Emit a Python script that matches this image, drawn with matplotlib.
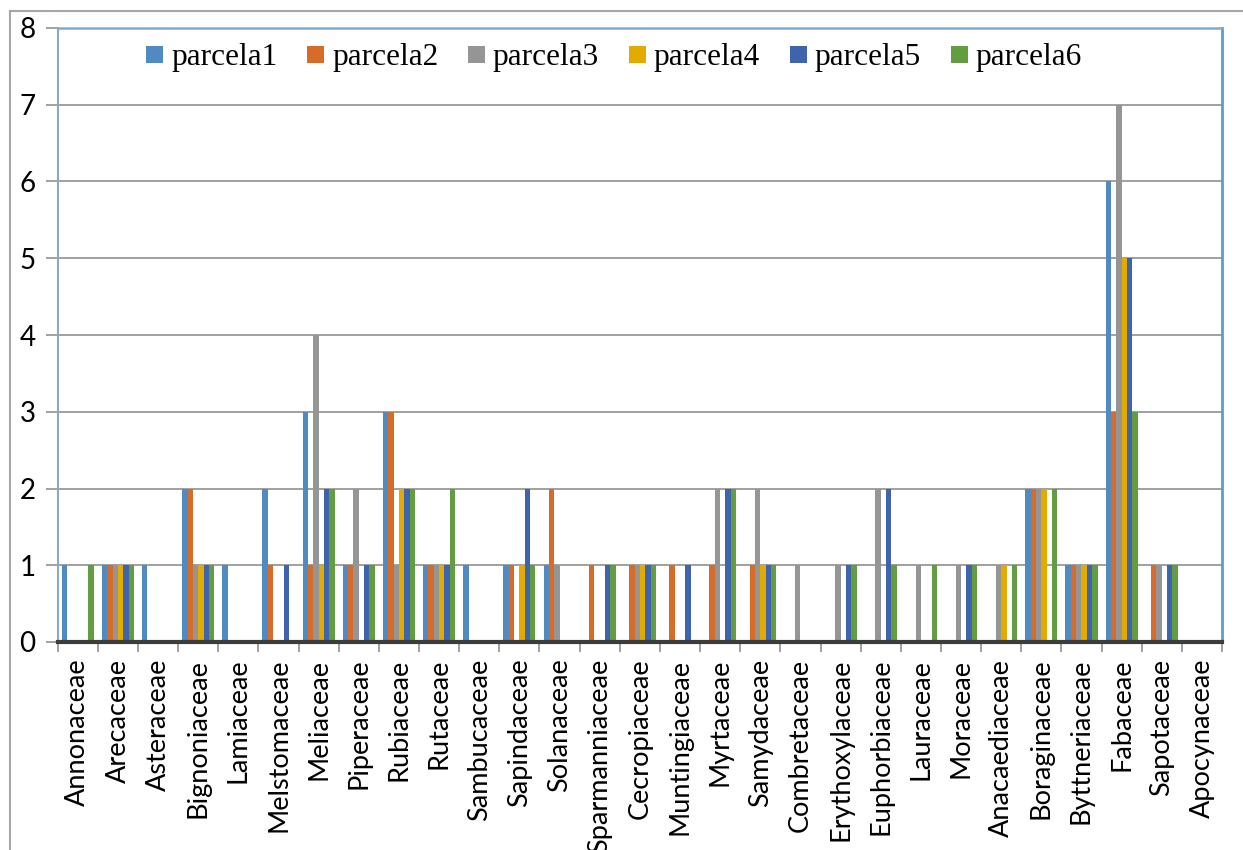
import numpy as np
import matplotlib.pyplot as plt
from matplotlib import patheffects as pe
from matplotlib.lines import Line2D

familias = ["Annonaceae", "Arecaceae", "Asteraceae", "Bignoniaceae", "Lamiaceae",
            "Melstomaceae", "Meliaceae", "Piperaceae", "Rubiaceae", "Rutaceae",
            "Sambucaceae", "Sapindaceae", "Solanaceae", "Sparmanniaceae", "Cecropiaceae",
            "Muntingiaceae", "Myrtaceae", "Samydaceae", "Combretaceae", "Erythoxylaceae",
            "Euphorbiaceae", "Lauraceae", "Moraceae", "Anacaediaceae", "Boraginaceae",
            "Byttneriaceae", "Fabaceae", "Sapotaceae", "Apocynaceae"]

parcela1 = [1, 1, 1, 2, 1, 2, 3, 1, 3, 1, 1, 1, 1, 0, 0, 0, 0, 0, 0, 0, 0, 0, 0, 0, 2, 1, 6, 0, 0]
parcela2 = [0, 1, 0, 2, 0, 1, 1, 1, 3, 1, 0, 1, 2, 1, 1, 1, 1, 1, 0, 0, 0, 0, 0, 0, 2, 1, 3, 1, 0]
parcela3 = [0, 1, 0, 1, 0, 0, 4, 2, 1, 1, 0, 0, 1, 0, 1, 0, 2, 2, 1, 1, 2, 1, 1, 1, 2, 1, 7, 1, 0]
parcela4 = [0, 1, 0, 1, 0, 0, 1, 0, 2, 1, 0, 1, 0, 0, 1, 0, 0, 1, 0, 0, 0, 0, 0, 1, 2, 1, 5, 0, 0]
parcela5 = [0, 1, 0, 1, 0, 1, 2, 1, 2, 1, 0, 2, 0, 1, 1, 1, 2, 1, 0, 1, 2, 0, 1, 0, 0, 1, 5, 1, 0]
parcela6 = [1, 1, 0, 1, 0, 0, 2, 1, 2, 2, 0, 1, 0, 1, 1, 0, 2, 1, 0, 1, 1, 1, 1, 1, 2, 1, 3, 1, 0]

series = [("parcela1", parcela1), ("parcela2", parcela2), ("parcela3", parcela3),
          ("parcela4", parcela4), ("parcela5", parcela5), ("parcela6", parcela6)]
cores = ["#4F8BC0", "#D66B2A", "#959595", "#E3AA00", "#3E64AE", "#629D41"]

fig = plt.figure(figsize=(12.43, 8.5), dpi=100)
ax = fig.add_axes([57.7 / 1243, 208 / 850, (1222 - 57.7) / 1243, (642 - 28) / 850])

x = np.arange(len(familias))
w = 0.133
for k, ((nome, vals), cor) in enumerate(zip(series, cores)):
    ax.bar(x + (k - 2.5) * w, vals, width=w, color=cor, label=nome, zorder=3)

ax.set_xlim(-0.5, len(familias) - 0.5)
ax.set_ylim(0, 8)
ax.set_yticks(range(9))
ax.yaxis.grid(True, color="#a0a0a0", linewidth=1.4, zorder=0)

# rotulos das familias no centro, tracinhos nas divisas
ax.set_xticks(x)
ax.set_xticklabels(familias, rotation=90, va="top", ha="center",
                   family="Lato", fontsize=19.5)
ax.set_xticks(np.arange(-0.5, len(familias)), minor=True)
ax.tick_params(axis="x", which="major", length=0, pad=12)
ax.tick_params(axis="x", which="minor", length=7, width=1.3, color="#9a9a9a")
ax.tick_params(axis="y", length=9, width=1.3, color="#9a9a9a", pad=7)
for t in ax.get_yticklabels():
    t.set_family("Lato")
    t.set_fontsize(20)

ax.spines["left"].set_color("#8ea7c4")
ax.spines["left"].set_linewidth(1.5)
ax.spines["top"].set_color("#7fa9d8")
ax.spines["top"].set_linewidth(1.8)
ax.spines["right"].set_color("#5b9bd5")
ax.spines["right"].set_linewidth(2)
ax.spines["bottom"].set_color("#3c3c3c")
ax.spines["bottom"].set_linewidth(3)
ax.spines["bottom"].set_zorder(4)
ax.spines["bottom"].set_path_effects([
    pe.SimplePatchShadow(offset=(3, -3), shadow_rgbFace="#000000", alpha=0.35),
    pe.Normal()])

leg = fig.legend(loc="center", bbox_to_anchor=(614 / 1243, 1 - 58 / 850), ncol=6,
                 frameon=False, prop={"family": "Liberation Serif", "size": 22.5},
                 handlelength=0.55, handleheight=0.5, handletextpad=0.25,
                 columnspacing=0.95)

# moldura cinza externa
fig.add_artist(Line2D([10 / 1243, 10 / 1243], [0, 1 - 11 / 850],
                      transform=fig.transFigure, color="#a6a6a6", linewidth=1.5))
fig.add_artist(Line2D([10 / 1243, 1], [1 - 11 / 850, 1 - 11 / 850],
                      transform=fig.transFigure, color="#a6a6a6", linewidth=1.5))

fig.savefig("out.png", dpi=100)
